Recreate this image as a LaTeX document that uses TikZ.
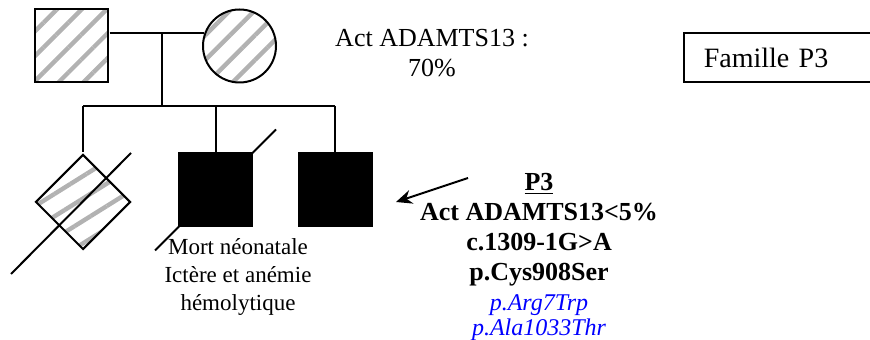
\documentclass[tikz,border=0pt]{standalone}
\usepackage{fontspec}
\setmainfont{Liberation Serif}
\usetikzlibrary{positioning,arrows.meta,shapes.geometric,calc,patterns.meta}
\tikzset{
  person/.style={draw,line width=1pt,inner sep=0pt,minimum size=36.5pt},
  hatched/.style={pattern={Lines[angle=45,distance=8.8pt,line width=2.2pt]},pattern color=gray!60},
  affected/.style={person,fill=black},
  link/.style={line width=1pt},
  arr/.style={-{Stealth[length=8pt,width=7pt]},line width=1pt}
}

\begin{document}
\begin{tikzpicture}[x=0.5pt,y=-0.5pt]
\clip (0,0) rectangle (870,340);
% parents
\node[person,hatched] (father) at (71,46) {};
\node[person,circle,hatched] (mother) at (239.5,46) {};
% children
\node[draw,line width=1pt,diamond,aspect=1,inner sep=0pt,minimum size=48pt,
  pattern={Lines[angle=32,distance=9.5pt,line width=2.2pt]},pattern color=gray!60] (abort) at (83,202) {};
\node[affected] (nn) at (215.5,190) {};
\node[affected] (p3) at (335,190) {};

\coordinate (mate) at (162,33);
\coordinate (sib) at (162,106);
\draw[link] (father.east |- mother.159) -- (mother.159);
\draw[link] (mate) -- (sib);
\draw[link] (abort.north |- sib) -- (p3.north |- sib);
\foreach \k in {abort,nn,p3}
  \draw[link] (\k.north |- sib) -- (\k.north);

% deceased
\draw[link] ($(abort)+(-72,72)$) -- ($(abort)+(48,-49)$);
\draw[link] ($(nn)+(-60.5,60.5)$) -- ($(nn)+(60.5,-60.5)$);

% labels
\node[font=\fontsize{13}{15}\selectfont,align=center] (actpar) at (432,53) {Act ADAMTS13 :\\70\%};
\node[draw,line width=0.8pt,anchor=west,minimum height=24.5pt,text width=100pt,inner xsep=10pt,
  align=left,font=\fontsize{14}{16}\selectfont] (famille) at (683,57.5) {Famille P3};
\node[font=\fontsize{11.5}{14}\selectfont,align=center] (mortlbl) at (238,277)
  {Mort néonatale\\Ictère et anémie\\hémolytique};
\node[font=\bfseries\fontsize{13}{15}\selectfont,align=center] (p3info) at (539,230)
  {\underline{P3}\\Act ADAMTS13<5\%\\c.1309-1G>A\\p.Cys908Ser};
\node[font=\itshape\fontsize{12}{12.5}\selectfont,text=blue,align=center] (p3var) at (539,318)
  {p.Arg7Trp\\p.Ala1033Thr};

\coordinate (ptr) at (468,178);
\coordinate (ptrtip) at (396,202);
\draw[arr] (ptr) -- (ptrtip);
\end{tikzpicture}
\end{document}
